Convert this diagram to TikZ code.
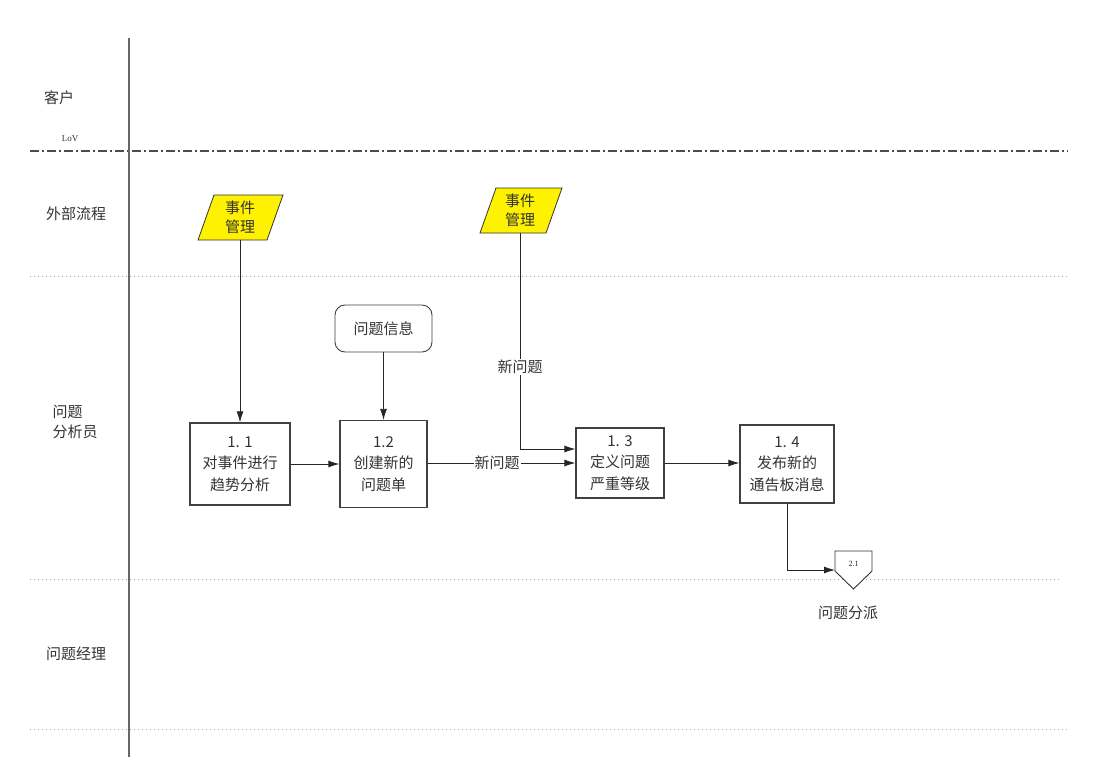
\documentclass[tikz,border=0pt]{standalone}
\usepackage{fontspec}
\setmainfont{Liberation Serif}
\newfontfamily\cjk{Noto Sans CJK SC}
\usetikzlibrary{arrows.meta}
\begin{document}
\begin{tikzpicture}[x=1pt,y=-1pt,
  lane/.style={font=\cjk\fontsize{15}{20}\selectfont, text=black!80},
  proc/.style={draw=black!75, line width=1.3pt, fill=white, align=center, inner sep=0pt,
     font=\cjk\fontsize{15}{21.5}\selectfont, text=black!80},
  para/.style={inner sep=0pt, minimum height=45, align=center, font=\cjk\fontsize{15}{19}\selectfont, text=black!80},
  conn/.style={draw=black!85, line width=0.8pt, -{Latex[length=11pt,width=7pt]}},
  lbl/.style={fill=white, inner sep=1pt, font=\cjk\fontsize{15}{18}\selectfont, text=black!80},
  sep/.style={draw=black!35, line width=0.8pt, dash pattern=on 1pt off 3pt}
]
\useasboundingbox (0,0) rectangle (1107,764);
\fill[white] (0,0) rectangle (1107,764);
% lane separators
\draw[draw=black!70, line width=1.2pt, dash pattern=on 9pt off 3pt on 2pt off 3pt] (30,151) -- (1068,151);
\draw[sep] (30,276) -- (1068,276);
\draw[sep] (30,579) -- (1060,579);
\draw[sep] (30,729) -- (1068,729);
\draw[draw=black!60, line width=1.5pt] (129,38) -- (129,757);
% lane labels
\node[lane] (l1) at (59,98) {客户};
\node[font=\fontsize{9}{10}\selectfont, text=black!80] (lov) at (70,139) {LoV};
\node[lane] (l2) at (76,214) {外部流程};
\node[lane, align=left, anchor=west] (l3) at (49,422) {问题\\分析员};
\node[lane] (l4) at (76,654) {问题经理};
% parallelograms
\draw[draw=black!80, line width=0.8pt, fill=yellow] (198,240) -- (214,195) -- (283,195) -- (267,240) -- cycle;
\node[para] (p1) at (240,217.5) {事件\\管理};
\draw[draw=black!80, line width=0.8pt, fill=yellow] (480,233) -- (496,188) -- (562,188) -- (546,233) -- cycle;
\node[para] (p2) at (520,210.5) {事件\\管理};
% info
\node[proc, line width=0.9pt, rounded corners=10pt, minimum width=97, minimum height=47] (info) at (383.5,328.5) {问题信息};
% processes
\node[proc, minimum width=100, minimum height=82] (b1) at (240,464) {1. 1\\对事件进行\\趋势分析};
\node[proc, minimum width=87, minimum height=87] (b2) at (383.5,464) {1.2\\创建新的\\问题单};
\node[proc, minimum width=88, minimum height=70] (b3) at (620,463) {1. 3\\定义问题\\严重等级};
\node[proc, minimum width=94, minimum height=78] (b4) at (787,464) {1. 4\\发布新的\\通告板消息};
% off-page connector
\draw[draw=black!80, line width=0.9pt, fill=white] (835,551) -- (872,551) -- (872,571) -- (853.5,589) -- (835,571) -- cycle;
\node[font=\fontsize{8}{9}\selectfont, text=black!85] (off) at (853.5,564) {2.1};
\coordinate (offw) at (835,570);
\node[lane] (offl) at (848,613) {问题分派};
% connectors
\draw[conn] (p1.south) -- (b1.north);
\draw[conn] (b1.east) -- (b1.east -| b2.west);
\draw[conn] (info.south) -- (b2.north);
\draw[conn] (b2.east |- b3.west) -- node[lbl, pos=0.47] (t1) {新问题} (b3.west);
\draw[conn] (p2.south) -- node[lbl, pos=0.62] (t2) {新问题} (p2.south |- 0,449) -- (b3.west |- 0,449);
\draw[conn] (b3.east) -- (b3.east -| b4.west);
\draw[conn] (b4.south) |- (offw);
\end{tikzpicture}
\end{document}
